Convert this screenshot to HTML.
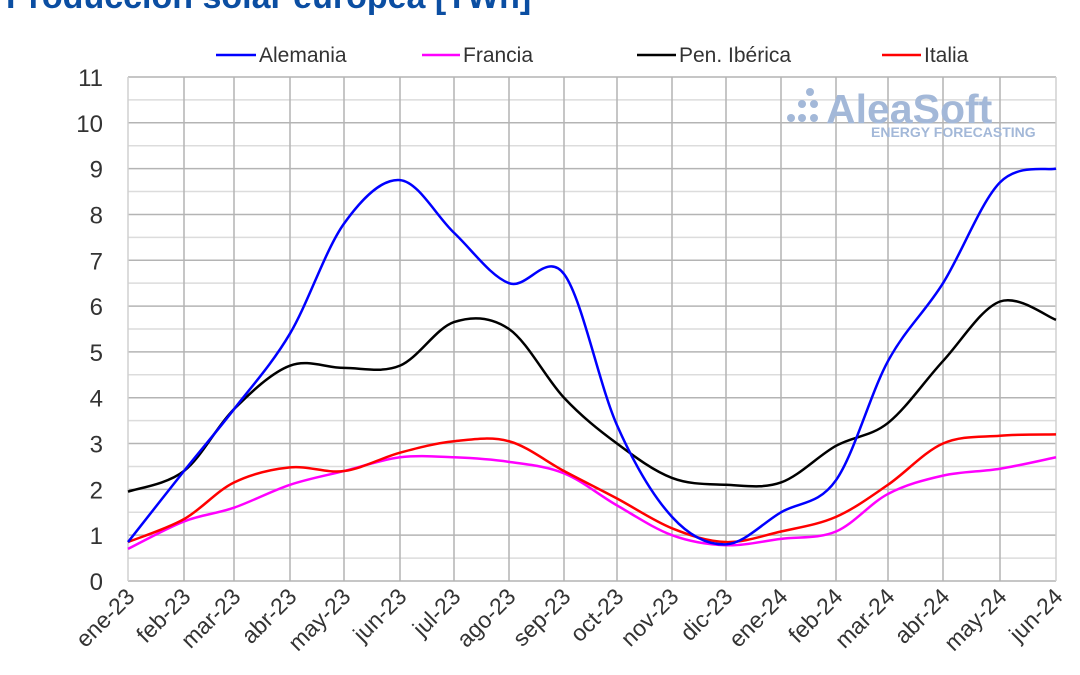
<!DOCTYPE html>
<html><head><meta charset="utf-8"><style>
html,body{margin:0;padding:0;background:#fff;width:1080px;height:675px;overflow:hidden}
svg text{font-family:"Liberation Sans",sans-serif}
</style></head><body>
<svg id="s" width="1080" height="675" xmlns="http://www.w3.org/2000/svg">
<text x="6" y="8" font-size="34" font-weight="bold" fill="#0b4ea2">Producción solar europea [TWh]</text>
<g id="grid"></g>
<g font-size="21" fill="#333">
<line x1="216" y1="55" x2="256" y2="55" stroke="#0000ff" stroke-width="2.5"/><text x="259" y="62">Alemania</text>
<line x1="422" y1="55" x2="460" y2="55" stroke="#ff00ff" stroke-width="2.5"/><text x="463" y="62">Francia</text>
<line x1="637" y1="55" x2="676" y2="55" stroke="#000" stroke-width="2.5"/><text x="679" y="62">Pen. Ibérica</text>
<line x1="882" y1="55" x2="921" y2="55" stroke="#ff0000" stroke-width="2.5"/><text x="924" y="62">Italia</text>
</g>
<g fill="#a3b8d8">
<circle cx="810" cy="92" r="4"/><circle cx="802" cy="104" r="4"/><circle cx="814" cy="104" r="4"/>
<circle cx="791" cy="118" r="4"/><circle cx="802" cy="118" r="4"/><circle cx="814" cy="118" r="4"/>
<text x="826" y="123" font-size="41" font-weight="bold">AleaSoft</text>
<text x="871" y="137" font-size="14" font-weight="bold">ENERGY FORECASTING</text>
</g>
<g id="series" fill="none" stroke-width="2.5"></g>
<g id="lab" font-size="24" fill="#333"></g>
</svg>
<script>
var xs=[128,184,234,290,344,400,454,509,564,617,672,726,781,836,888,943,1000,1056];
var names=["ene-23","feb-23","mar-23","abr-23","may-23","jun-23","jul-23","ago-23","sep-23","oct-23","nov-23","dic-23","ene-24","feb-24","mar-24","abr-24","may-24","jun-24"];
function Y(v){return 581-v*45.82;}
var g='',L='';
for(var i=0;i<=22;i++){var y=Y(i/2);g+='<line x1="128" x2="1056" y1="'+y+'" y2="'+y+'" stroke="'+(i%2?'#dcdcdc':'#b4b4b4')+'" stroke-width="1.5"/>';}
xs.forEach(function(x,i){g+='<line x1="'+x+'" x2="'+x+'" y1="77" y2="581" stroke="'+(i==0||i==17?'#d0d0d0':'#b4b4b4')+'" stroke-width="1.5"/>';
L+='<text font-size="23" text-anchor="end" transform="translate('+(x+8)+',598) rotate(-45)">'+names[i]+'</text>';});
for(var v=0;v<=11;v++)L+='<text x="103" y="'+(Y(v)+9)+'" text-anchor="end">'+v+'</text>';
document.getElementById('grid').innerHTML=g;document.getElementById('lab').innerHTML=L;
var D={"#ff00ff":[0.7,1.3,1.6,2.1,2.4,2.7,2.7,2.6,2.35,1.65,1.0,0.78,0.92,1.08,1.9,2.3,2.45,2.7],
"#ff0000":[0.85,1.35,2.15,2.48,2.4,2.8,3.05,3.05,2.4,1.8,1.15,0.85,1.08,1.4,2.1,3.0,3.17,3.2],
"#000000":[1.95,2.4,3.75,4.7,4.65,4.7,5.65,5.5,4.0,3.0,2.25,2.1,2.15,2.95,3.45,4.8,6.1,5.7],
"#0000ff":[0.85,2.4,3.75,5.4,7.8,8.75,7.6,6.5,6.7,3.4,1.4,0.8,1.5,2.2,4.8,6.5,8.7,9.0]};
var S='';
for(var c in D){var p=D[c].map(function(v,i){return [xs[i],Y(v)]});var d='M'+p[0][0]+','+p[0][1];
for(var i=0;i<p.length-1;i++){var p0=p[Math.max(0,i-1)],p1=p[i],p2=p[i+1],p3=p[Math.min(p.length-1,i+2)];
var t=6;d+=' C'+(p1[0]+(p2[0]-p0[0])/t)+','+(p1[1]+(p2[1]-p0[1])/t)+' '+(p2[0]-(p3[0]-p1[0])/t)+','+(p2[1]-(p3[1]-p1[1])/t)+' '+p2[0]+','+p2[1];}
S+='<path d="'+d+'" stroke="'+c+'"/>';}
document.getElementById('series').innerHTML=S;
</script>
</body></html>
